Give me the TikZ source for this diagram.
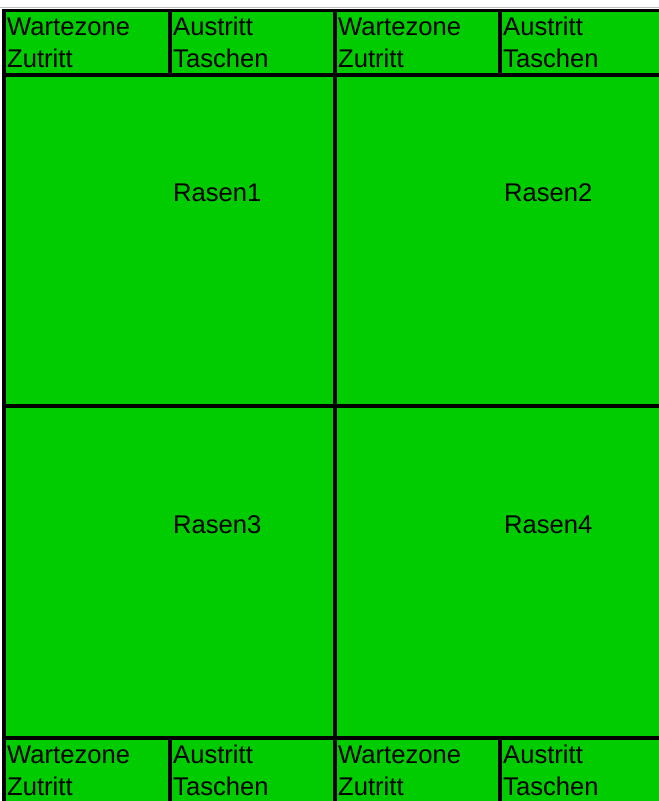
\documentclass[tikz,border=0pt]{standalone}
\usepackage{fontspec}
\setmainfont{Liberation Sans}
\definecolor{rasen}{HTML}{00CC00}
\begin{document}
\begin{tikzpicture}[x=1pt,y=-1pt,line cap=rect,line join=miter,
  grid/.style={line width=3.2pt,draw=black},
  lbl/.style={anchor=base west,inner sep=0pt,font=\fontsize{25.6}{30}\selectfont}]
  \useasboundingbox (0,0) rectangle (659,801);
  \fill[white] (0,0) rectangle (659,801);
  \fill[rasen] (4,10.5) rectangle (659,801);
  \draw[line width=1pt,black!25] (0,7.6) -- (659,7.6);
  % Gitter
  \draw[grid] (659,10.5) -- (4,10.5) -- (4,801);
  \draw[grid] (4,75) -- (659,75);
  \draw[grid] (4,406) -- (659,406);
  \draw[grid] (4,738) -- (659,738);
  \draw[grid] (335,10.5) -- (335,801);
  \draw[grid] (170,10.5) -- (170,75);
  \draw[grid] (500,10.5) -- (500,75);
  \draw[grid] (170,738) -- (170,801);
  \draw[grid] (500,738) -- (500,801);
  % oben
  \node[lbl] (wzA) at (7,35) {Wartezone};
  \node[lbl] (ztA) at (7,67) {Zutritt};
  \node[lbl] (auA) at (173,35) {Austritt};
  \node[lbl] (taA) at (173,67) {Taschen};
  \node[lbl] (wzB) at (338,35) {Wartezone};
  \node[lbl] (ztB) at (338,67) {Zutritt};
  \node[lbl] (auB) at (503,35) {Austritt};
  \node[lbl] (taB) at (503,67) {Taschen};
  % Rasen
  \node[lbl] (rasen1) at (173,201) {Rasen1};
  \node[lbl] (rasen2) at (504,201) {Rasen2};
  \node[lbl] (rasen3) at (173,533) {Rasen3};
  \node[lbl] (rasen4) at (504,533) {Rasen4};
  % unten
  \node[lbl] (wzC) at (7,763) {Wartezone};
  \node[lbl] (ztC) at (7,795) {Zutritt};
  \node[lbl] (auC) at (173,763) {Austritt};
  \node[lbl] (taC) at (173,795) {Taschen};
  \node[lbl] (wzD) at (338,763) {Wartezone};
  \node[lbl] (ztD) at (338,795) {Zutritt};
  \node[lbl] (auD) at (503,763) {Austritt};
  \node[lbl] (taD) at (503,795) {Taschen};
\end{tikzpicture}
\end{document}
